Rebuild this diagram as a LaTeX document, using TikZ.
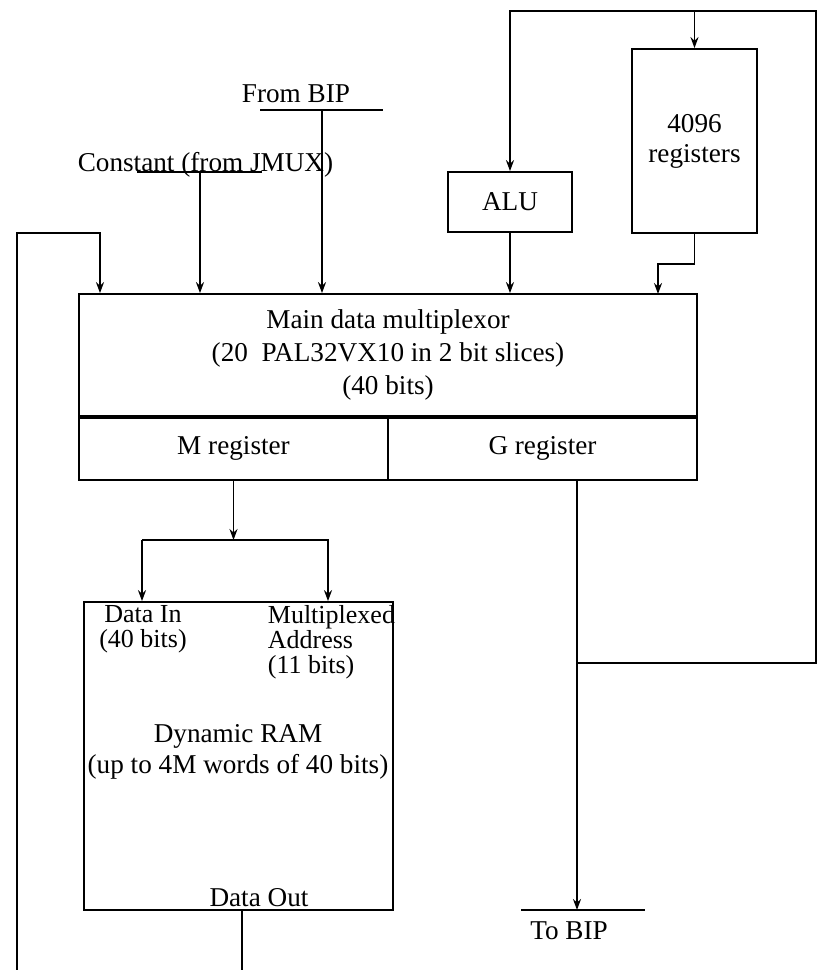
\documentclass[tikz,border=0pt]{standalone}
\usepackage{fontspec}
\setmainfont{Liberation Serif}
\usetikzlibrary{positioning,arrows.meta}

\begin{document}
\begin{tikzpicture}[x=0.5pt, y=-0.5pt, line width=0.9pt,
  box/.style={draw, inner sep=0pt, align=center, font=\fontsize{13.6}{16.5}\selectfont},
  lbl/.style={inner sep=0pt, align=center, font=\fontsize{13.6}{16}\selectfont},
  port/.style={inner sep=0pt, font=\fontsize{13}{12.5}\selectfont},
  arr/.style={-{Stealth[length=5.5pt, width=4pt]}}]
\useasboundingbox (0,0) rectangle (818,970);
\node[box, minimum width=309pt, minimum height=61pt] (mux) at (388,355) {Main data multiplexor\\(20\ \ PAL32VX10 in 2 bit slices)\\(40 bits)};
\node[box, minimum width=154.5pt, minimum height=31pt, anchor=north west] (mreg) at (mux.south west) {M register};
\node[box, minimum width=154.5pt, minimum height=31pt, anchor=north east] (greg) at (mux.south east) {G register};
\node[box, minimum width=62pt, minimum height=30pt] (alu) at (510,202) {ALU};
\node[box, minimum width=62.5pt, minimum height=92pt, font=\fontsize{13.6}{15}\selectfont] (regs) at (694.5,141) {4096\\registers};
\node[box, minimum width=154.5pt, minimum height=154pt] (ram) at (238.5,756) {};
\node[lbl, font=\fontsize{13.6}{15.5}\selectfont] (dram) at (238,752) {Dynamic RAM\\(up to 4M words of 40 bits)};
\node[port, align=center, anchor=north] (datain) at (143,605) {Data In\\(40 bits)};
\node[port, align=left, anchor=north west] (addr) at (267,605) {Multiplexed\\Address\\(11 bits)};
\node[lbl, anchor=base] (dataout) at (259,906) {Data Out};
\node[lbl, anchor=base] (frombip) at (296,102) {From BIP};
\node[lbl, anchor=base] (const) at (205.5,171) {Constant (from JMUX)};
\node[lbl, anchor=base] (tobip) at (569,939) {To BIP};
\coordinate (bipbar) at (322,110);
\coordinate (constbar) at (200,172);
\coordinate (tobipbar) at (577,910);
\coordinate (fbl) at (17,970);
\coordinate (fbltop) at (100,233);
\coordinate (fbr) at (816,663);
\coordinate (fbtop) at (816,11);
\coordinate (regsin) at (658,294);
\coordinate (split) at (234,540);
\coordinate (din) at (142,540);
\coordinate (ain) at (328,540);
\coordinate (dout) at (242,970);
\draw ([xshift=-31pt]bipbar) -- ([xshift=30.5pt]bipbar);
\draw ([xshift=-31.5pt]constbar) -- ([xshift=31pt]constbar);
\draw ([xshift=-28pt]tobipbar) -- ([xshift=34pt]tobipbar);
\draw[arr] (bipbar) -- (bipbar |- mux.north); \draw[arr] (constbar) -- (constbar |- mux.north);
\draw[arr] (fbl) |- (fbltop) -- (fbltop |- mux.north);
\draw[arr] (tobipbar |- fbr) -- (fbr) -- (fbtop) -| (alu.north);
\draw[arr] (regs.north |- fbtop) -- (regs.north);
\draw[arr] (alu.south) -- (alu.south |- mux.north);
\draw[arr] (regs.south) -- ++(0,30) -| (regsin);
\draw[arr] (mreg.south) -- (mreg.south |- split);
\draw[arr] (din) -- (din |- ram.north); \draw[arr] (din) -- (ain) -- (ain |- ram.north);
\draw[arr] (greg.south -| tobipbar) -- (tobipbar);
\draw (dout |- ram.south) -- (dout);
\end{tikzpicture}
\end{document}
